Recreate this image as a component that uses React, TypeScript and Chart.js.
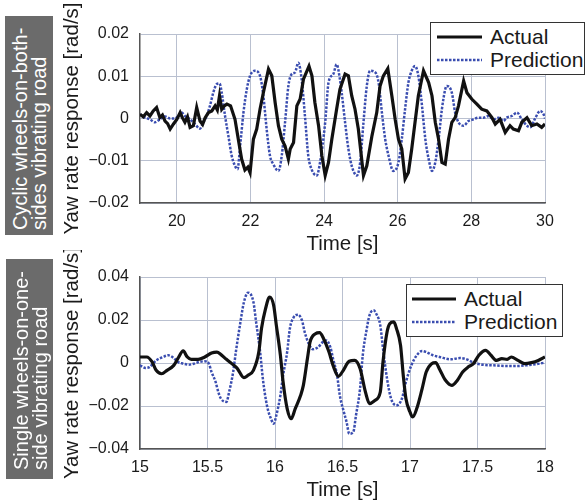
import React, { useEffect, useRef } from "react";
import { Chart, registerables } from "chart.js";
Chart.register(...registerables);

const FONT = '"Liberation Sans", Arial, Helvetica, sans-serif';
const BLUE = "#3a4db0";
const BLACK = "#111111";
const GRID = "#b9c0d0";
const AXIS = "#555555";
const TEXT = "#1a1a1a";

// ---- Top chart (cyclic wheels-on-both-sides) ----
const topXTicks = [20, 22, 24, 26, 28, 30];
const topYTicks = [-0.02, -0.01, 0, 0.01, 0.02];
const topActualT = [19.0, 19.09, 19.18, 19.27, 19.36, 19.45, 19.54, 19.61, 19.68, 19.75, 19.82, 19.91, 20.0, 20.09, 20.15, 20.22, 20.29, 20.36, 20.45, 20.54, 20.63, 20.7, 20.77, 20.86, 20.95, 21.04, 21.1, 21.16, 21.22, 21.29, 21.36, 21.46, 21.58, 21.67, 21.76, 21.85, 21.93, 21.99, 22.08, 22.17, 22.26, 22.35, 22.49, 22.58, 22.67, 22.76, 22.85, 22.94, 23.03, 23.08, 23.17, 23.26, 23.35, 23.44, 23.59, 23.67, 23.75, 23.85, 23.94, 24.03, 24.12, 24.21, 24.34, 24.43, 24.57, 24.66, 24.75, 24.84, 24.93, 25.07, 25.16, 25.3, 25.43, 25.52, 25.61, 25.73, 25.84, 25.93, 26.02, 26.11, 26.2, 26.29, 26.38, 26.47, 26.56, 26.7, 26.84, 26.93, 27.02, 27.11, 27.2, 27.29, 27.38, 27.47, 27.56, 27.65, 27.79, 27.88, 28.01, 28.15, 28.28, 28.42, 28.56, 28.65, 28.78, 28.92, 29.05, 29.14, 29.28, 29.37, 29.51, 29.64, 29.78, 29.91, 30.0];
const topActualV = [0.001, 0.0004, 0.0014, 0.0006, 0.0018, 0.0026, 0.0002, 0.0008, -0.0006, -0.0012, -0.0025, -0.0013, -0.0002, 0.0014, 0.0002, -0.0009, 0.0004, -0.0021, -0.0017, 0.0026, -0.0006, -0.0014, 0.0002, 0.0014, 0.0018, 0.003, 0.002, 0.0054, 0.0022, 0.003, 0.0034, 0.003, -0.0002, -0.0049, -0.0096, -0.0122, -0.0115, -0.0128, -0.0049, -0.0025, 0.0022, 0.0061, 0.0117, 0.0101, 0.0038, -0.0017, -0.0049, -0.0065, -0.0096, -0.0072, -0.0057, 0.003, 0.0046, 0.0093, 0.0124, 0.0101, 0.0038, -0.0017, -0.0088, -0.0135, -0.0104, -0.0049, 0.0022, 0.0069, 0.0105, 0.0101, 0.0054, 0.0022, -0.0025, -0.0135, -0.0112, -0.0041, 0.0014, 0.0077, 0.0101, 0.0118, 0.0054, -0.0002, -0.0049, -0.0072, -0.0143, -0.0128, -0.0072, -0.0009, 0.0054, 0.0113, 0.0085, 0.0054, -0.0009, -0.0049, -0.0104, -0.0108, -0.0049, -0.0009, 0.0002, 0.003, 0.0089, 0.0061, 0.0046, 0.0034, 0.0022, 0.0018, 0.0002, -0.0013, -0.0002, -0.0033, -0.0017, -0.0025, -0.0029, -0.0009, 0.0002, -0.0017, -0.0013, -0.0021, -0.0013];
const topPredT = [19.0, 19.14, 19.27, 19.41, 19.54, 19.68, 19.82, 19.95, 20.04, 20.13, 20.22, 20.36, 20.49, 20.63, 20.72, 20.81, 20.9, 20.99, 21.08, 21.16, 21.22, 21.31, 21.4, 21.49, 21.58, 21.65, 21.72, 21.81, 21.9, 21.99, 22.12, 22.26, 22.35, 22.44, 22.53, 22.62, 22.76, 22.85, 22.94, 23.03, 23.12, 23.21, 23.3, 23.39, 23.48, 23.57, 23.66, 23.8, 23.89, 24.03, 24.12, 24.25, 24.34, 24.43, 24.48, 24.57, 24.66, 24.75, 24.89, 24.98, 25.07, 25.16, 25.25, 25.39, 25.48, 25.57, 25.66, 25.75, 25.88, 26.02, 26.11, 26.2, 26.29, 26.38, 26.47, 26.56, 26.65, 26.75, 26.84, 26.93, 27.02, 27.11, 27.2, 27.29, 27.33, 27.47, 27.56, 27.65, 27.79, 27.92, 28.06, 28.19, 28.33, 28.47, 28.6, 28.74, 28.87, 28.96, 29.1, 29.24, 29.37, 29.51, 29.6, 29.73, 29.87, 29.96, 30.0];
const topPredV = [0.001, 0.0002, -0.0002, -0.0009, -0.0002, 0.0005, 0.0, 0.0, 0.0006, 0.0014, 0.0006, -0.0002, -0.0013, -0.0024, -0.0009, 0.0006, 0.003, 0.0061, 0.0081, 0.0083, 0.0061, 0.0006, -0.0041, -0.0088, -0.0112, -0.012, -0.0065, 0.0014, 0.0069, 0.0101, 0.0113, 0.0101, 0.0054, -0.0025, -0.0088, -0.0108, -0.0124, -0.0088, -0.0009, 0.0077, 0.0105, 0.0109, 0.0132, 0.0093, 0.0006, -0.0088, -0.012, -0.0135, -0.0104, -0.0009, 0.0085, 0.0105, 0.0128, 0.0093, 0.006, -0.0009, -0.0072, -0.0112, -0.0135, -0.0104, -0.0009, 0.0077, 0.0113, 0.0109, 0.0085, 0.0014, -0.0049, -0.0088, -0.0124, -0.0104, -0.0049, 0.0022, 0.0085, 0.0113, 0.0124, 0.0101, 0.0038, -0.0049, -0.0096, -0.0124, -0.0104, -0.0049, 0.0022, 0.0069, 0.0077, 0.0061, 0.0014, -0.0009, -0.0017, -0.0006, -0.0002, 0.0002, 0.0002, 0.0006, -0.0002, 0.0002, -0.0006, 0.0002, 0.0006, 0.0014, -0.0002, -0.0017, -0.0021, 0.0, 0.0018, 0.001, 0.0];

// ---- Bottom chart (single wheels-on-one-side) ----
const botXTicks = [15, 15.5, 16, 16.5, 17, 17.5, 18];
const botYTicks = [-0.04, -0.02, 0, 0.02, 0.04];
const botActualT = [15.0, 15.05, 15.09, 15.12, 15.16, 15.2, 15.25, 15.28, 15.32, 15.35, 15.38, 15.43, 15.48, 15.53, 15.57, 15.6, 15.64, 15.68, 15.72, 15.77, 15.8, 15.84, 15.88, 15.9, 15.93, 15.96, 15.99, 16.01, 16.04, 16.06, 16.09, 16.12, 16.15, 16.19, 16.21, 16.24, 16.26, 16.3, 16.33, 16.36, 16.4, 16.43, 16.47, 16.5, 16.55, 16.59, 16.63, 16.67, 16.7, 16.74, 16.78, 16.8, 16.83, 16.85, 16.88, 16.9, 16.93, 16.95, 16.97, 17.0, 17.02, 17.05, 17.09, 17.12, 17.16, 17.19, 17.22, 17.26, 17.31, 17.35, 17.39, 17.43, 17.47, 17.51, 17.56, 17.6, 17.64, 17.68, 17.72, 17.75, 17.8, 17.85, 17.9, 17.95, 18.0];
const botActualV = [0.0028, 0.0028, 0.0005, -0.0034, -0.005, -0.0034, -0.0011, 0.002, 0.0056, 0.0028, 0.0017, 0.0017, 0.0028, 0.0047, 0.0051, 0.0039, 0.0017, -0.0003, -0.0025, -0.0068, -0.0057, -0.0034, 0.0051, 0.016, 0.0253, 0.0307, 0.0268, 0.0175, 0.0036, -0.0088, -0.0212, -0.0259, -0.0212, -0.015, -0.0104, 0.002, 0.0098, 0.0136, 0.0141, 0.0113, 0.0051, -0.0011, -0.0062, -0.004, 0.0008, 0.0012, -0.0026, -0.0135, -0.0189, -0.0174, -0.0135, 0.0005, 0.0144, 0.0183, 0.0191, 0.016, 0.0082, -0.0057, -0.0166, -0.0228, -0.0251, -0.0212, -0.0119, -0.0042, -0.0003, 0.0002, -0.003, -0.0078, -0.0104, -0.0081, -0.0042, -0.0019, -0.0003, 0.0036, 0.0059, 0.0036, 0.0012, 0.002, 0.0017, 0.0028, 0.0012, -0.0003, 0.0002, 0.0012, 0.0028];
const botPredT = [15.0, 15.04, 15.07, 15.12, 15.17, 15.21, 15.25, 15.28, 15.32, 15.36, 15.4, 15.44, 15.48, 15.51, 15.53, 15.56, 15.58, 15.6, 15.64, 15.66, 15.69, 15.71, 15.74, 15.77, 15.8, 15.84, 15.86, 15.89, 15.91, 15.94, 15.97, 15.99, 16.01, 16.04, 16.06, 16.09, 16.11, 16.14, 16.17, 16.2, 16.22, 16.25, 16.28, 16.32, 16.36, 16.38, 16.41, 16.43, 16.46, 16.48, 16.51, 16.53, 16.55, 16.58, 16.6, 16.63, 16.65, 16.68, 16.7, 16.73, 16.75, 16.78, 16.8, 16.83, 16.86, 16.9, 16.94, 16.97, 17.01, 17.05, 17.09, 17.12, 17.17, 17.22, 17.3, 17.37, 17.42, 17.47, 17.54, 17.62, 17.72, 17.79, 17.86, 17.94, 18.0];
const botPredV = [-0.0011, -0.0023, -0.0019, 0.0012, 0.0028, 0.0036, 0.0023, 0.0005, -0.0003, -0.0008, -0.0003, 0.0005, 0.0008, -0.0003, -0.0042, -0.0088, -0.0135, -0.0166, -0.0181, -0.0135, -0.0042, 0.0051, 0.0175, 0.0283, 0.0327, 0.0284, 0.0191, 0.0051, -0.0073, -0.0197, -0.0259, -0.0282, -0.0243, -0.015, -0.0057, 0.0051, 0.016, 0.0214, 0.0225, 0.0198, 0.0144, 0.009, 0.0064, 0.0074, 0.0101, 0.0105, 0.0074, 0.002, -0.0057, -0.015, -0.0228, -0.0274, -0.0329, -0.0321, -0.0243, -0.0119, 0.0036, 0.016, 0.0222, 0.0245, 0.0229, 0.0175, 0.0067, -0.0073, -0.0166, -0.0197, -0.0166, -0.0088, -0.0011, 0.0036, 0.0056, 0.0051, 0.0036, 0.0028, 0.0017, 0.0023, 0.0017, 0.0002, -0.0008, -0.0011, -0.0014, -0.0014, -0.0011, -0.0005, 0.0002];

const legendLabels = ["Actual", "Prediction"];
const xTitle = "Time [s]";
const yTitle = "Yaw rate response [rad/s]";
const topSideLabel = ["Cyclic wheels-on-both-", "sides vibrating road"];
const botSideLabel = ["Single wheels-on-one-", "side vibrating road"];

const pts = (t: number[], v: number[]) => t.map((x, i) => ({ x, y: v[i] }));
const fmtY = (v: number) => (Math.abs(v) < 1e-9 ? "0" : v.toFixed(2).replace("-", "\u2212"));

type Spec = {
  actual: { x: number; y: number }[];
  pred: { x: number; y: number }[];
  xMin: number; xMax: number; yMin: number; yMax: number;
  xTicks: number[]; yTicks: number[];
  padTop: number; xAxisH: number; titleBottom: number; smoothActual: boolean;
};

function ChartCanvas({ spec, width, height, style }: { spec: Spec; width: number; height: number; style: React.CSSProperties }) {
  const ref = useRef<HTMLCanvasElement | null>(null);
  useEffect(() => {
    if (!ref.current) return;
    const chart = new Chart(ref.current, {
      type: "line",
      data: {
        datasets: [
          {
            label: legendLabels[0], data: spec.actual, borderColor: BLACK, borderWidth: 3.2,
            pointRadius: 0, fill: false, tension: spec.smoothActual ? 0.4 : 0,
            cubicInterpolationMode: spec.smoothActual ? "monotone" : "default",
          },
          {
            label: legendLabels[1], data: spec.pred, borderColor: BLUE, borderWidth: 2.5,
            borderDash: [2.5, 1.5], pointRadius: 0, fill: false, tension: 0.4,
            cubicInterpolationMode: "monotone",
          },
        ],
      } as any,
      options: {
        responsive: false, animation: false, devicePixelRatio: 1,
        layout: { padding: { left: 60, right: 40, top: spec.padTop, bottom: 0 } },
        plugins: { legend: { display: false }, tooltip: { enabled: false } },
        scales: {
          x: {
            type: "linear", min: spec.xMin, max: spec.xMax,
            afterBuildTicks: (s: any) => { s.ticks = spec.xTicks.map((value) => ({ value })); },
            afterFit: (s: any) => { s.height = spec.xAxisH; },
            grid: { color: GRID, lineWidth: 1, drawTicks: false },
            border: { color: AXIS, width: 1.5 },
            ticks: { padding: 9, color: TEXT, font: { family: FONT, size: 16 }, maxRotation: 0, autoSkip: false, callback: (v: any) => String(v) },
            title: { display: true, text: xTitle, color: TEXT, font: { family: FONT, size: 20.5 }, padding: { top: 0, bottom: spec.titleBottom } },
          },
          y: {
            type: "linear", min: spec.yMin, max: spec.yMax,
            afterBuildTicks: (s: any) => { s.ticks = spec.yTicks.map((value) => ({ value })); },
            afterFit: (s: any) => { s.width = 80; },
            grid: { color: GRID, lineWidth: 1, drawTicks: false },
            border: { color: AXIS, width: 1.5 },
            ticks: { padding: 11, color: TEXT, font: { family: FONT, size: 16 }, autoSkip: false, callback: (v: any) => fmtY(Number(v)) },
            title: { display: true, text: yTitle, color: TEXT, font: { family: FONT, size: 20.5 }, padding: { top: 0, bottom: 0 } },
          },
        },
      } as any,
    });
    return () => chart.destroy();
  }, []);
  return <canvas ref={ref} width={width} height={height} style={{ position: "absolute", width, height, ...style }} />;
}

function SideLabel({ left, top, width, height, lines, startPad }: { left: number; top: number; width: number; height: number; lines: string[]; startPad: number }) {
  return (
    <div style={{ position: "absolute", left, top, width, height, background: "#6b6b6b", overflow: "hidden" }}>
      <div
        style={{
          position: "absolute", left: 0, top: height, width: height, height: width,
          transform: "rotate(-90deg)", transformOrigin: "0 0", boxSizing: "border-box",
          paddingLeft: startPad, paddingTop: 6, color: "#ffffff", fontFamily: FONT,
          fontSize: 20, lineHeight: "19px", whiteSpace: "nowrap", textAlign: "left",
        }}
      >
        {lines.map((l, i) => (<div key={i}>{l}</div>))}
      </div>
    </div>
  );
}

function Legend({ left, top, width, height, sx, sw, tx }: { left: number; top: number; width: number; height: number; sx: number; sw: number; tx: number }) {
  const rows = [15, 38];
  return (
    <div style={{ position: "absolute", left, top, width, height, boxSizing: "border-box", border: "1px solid #333", background: "#fff", fontFamily: FONT, fontSize: 21, color: TEXT }}>
      <svg width={width} height={height} style={{ position: "absolute", left: -1, top: -1 }}>
        <line x1={sx} x2={sx + sw} y1={rows[0]} y2={rows[0]} stroke={BLACK} strokeWidth={3} />
        <line x1={sx} x2={sx + sw} y1={rows[1]} y2={rows[1]} stroke={BLUE} strokeWidth={2.5} strokeDasharray="2.5 1.5" />
      </svg>
      {legendLabels.map((l, i) => (
        <div key={l} style={{ position: "absolute", left: tx - 1, top: rows[i] - 13, lineHeight: "24px", whiteSpace: "nowrap" }}>{l}</div>
      ))}
    </div>
  );
}

export default function App() {
  const topSpec: Spec = {
    actual: pts(topActualT, topActualV), pred: pts(topPredT, topPredV),
    xMin: 19, xMax: 30, yMin: -0.02, yMax: 0.02, xTicks: topXTicks, yTicks: topYTicks,
    padTop: 34, xAxisH: 54, titleBottom: 0, smoothActual: false,
  };
  const botSpec: Spec = {
    actual: pts(botActualT, botActualV), pred: pts(botPredT, botPredV),
    xMin: 15, xMax: 18, yMin: -0.04, yMax: 0.04, xTicks: botXTicks, yTicks: botYTicks,
    padTop: 27, xAxisH: 54, titleBottom: 0, smoothActual: true,
  };
  return (
    <div style={{ position: "absolute", left: 0, top: 0, width: 585, height: 503, background: "#fff", overflow: "hidden" }}>
      <ChartCanvas spec={topSpec} width={585} height={257} style={{ left: 0, top: 0 }} />
      <ChartCanvas spec={botSpec} width={585} height={253} style={{ left: 0, top: 250 }} />
      <SideLabel left={5} top={16} width={48} height={219} lines={topSideLabel} startPad={5} />
      <SideLabel left={6} top={259} width={47} height={220} lines={botSideLabel} startPad={9} />
      <Legend left={430} top={22} width={155} height={53} sx={7} sw={45} tx={60} />
      <Legend left={406} top={284} width={157} height={53} sx={6} sw={44} tx={58} />
    </div>
  );
}
